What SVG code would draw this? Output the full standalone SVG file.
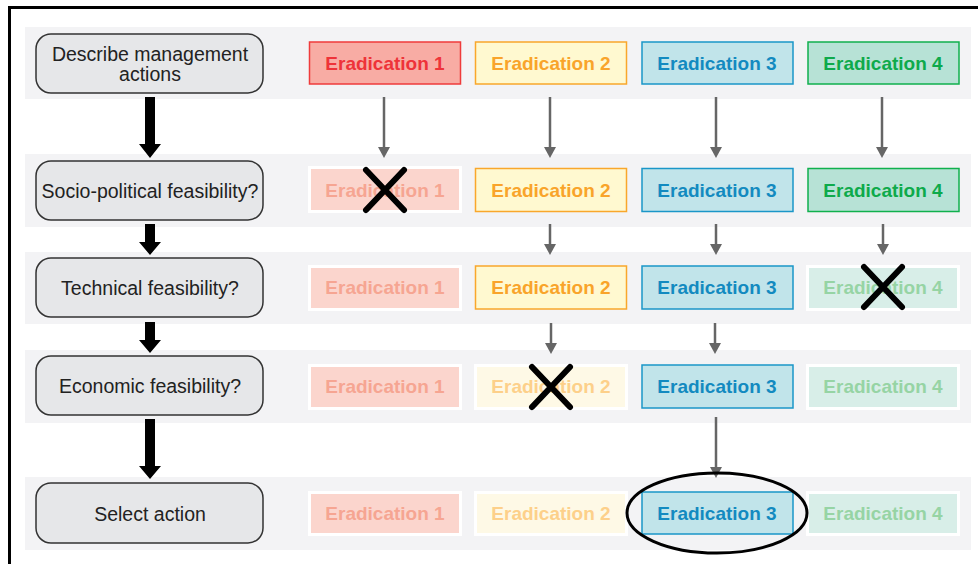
<svg xmlns="http://www.w3.org/2000/svg" width="978" height="564" viewBox="0 0 978 564">
<style>
.band{fill:#f3f3f5}
.step{fill:#e6e7e9;stroke:#333;stroke-width:1.5}
.stxt{font-family:"Liberation Sans",Arial,sans-serif;font-size:19.5px;fill:#222;text-anchor:middle;dominant-baseline:central}
.etxt{font-family:"Liberation Sans",Arial,sans-serif;font-size:19px;font-weight:bold;text-anchor:middle;dominant-baseline:central}
.c1a{fill:#f8aca4;stroke:#ef3b3b;stroke-width:1.5}.t1a{fill:#ee3339}
.c2a{fill:#fff9d0;stroke:#f9a72b;stroke-width:1.5}.t2a{fill:#f9a42a}
.c3a{fill:#c1e4ea;stroke:#1a96c8;stroke-width:1.5}.t3a{fill:#138ac0}
.c4a{fill:#b7e2d6;stroke:#10b04d;stroke-width:1.5}.t4a{fill:#0eaa4b}
.wf{fill:#ffffff}
.c1f{fill:#fbd5cd}.t1f{fill:#f6a592}
.c2f{fill:#fef9e6}.t2f{fill:#fdd08a}
.c4f{fill:#d8eee8}.t4f{fill:#96d4a4}
.garrow{stroke:#666;stroke-width:2.5;fill:none}
.barrow{fill:#000}
.xm{stroke:#000;stroke-width:6;stroke-linecap:round}
</style>
<rect x="0" y="0" width="978" height="564" fill="#fff"/>
<rect x="9.5" y="7.5" width="1000" height="600" fill="none" stroke="#000" stroke-width="3"/>
<g id="bands">
<rect class="band" x="25" y="27" width="946" height="72"/>
<rect class="band" x="25" y="154" width="946" height="73"/>
<rect class="band" x="25" y="252" width="946" height="72"/>
<rect class="band" x="25" y="350" width="946" height="73"/>
<rect class="band" x="25" y="477" width="946" height="73"/>
</g>
<g id="connectors">
<path class="barrow" d="M145,97 H155 V144 H161 L150,158 L139,144 H145 Z"/>
<path class="barrow" d="M145,224 H155 V242 H161 L150,255 L139,242 H145 Z"/>
<path class="barrow" d="M145,322 H155 V340 H161 L150,353 L139,340 H145 Z"/>
<path class="barrow" d="M145,419 H155 V466 H161 L150,479 L139,466 H145 Z"/>
<g fill="#666">
<path d="M384,97 V148" class="garrow"/><path d="M378,147 H390 L384,158 Z"/>
<path d="M550,97 V148" class="garrow"/><path d="M544,147 H556 L550,158 Z"/>
<path d="M716,97 V148" class="garrow"/><path d="M710,147 H722 L716,158 Z"/>
<path d="M882,97 V148" class="garrow"/><path d="M876,147 H888 L882,158 Z"/>
<path d="M550,224 V245" class="garrow"/><path d="M544,244 H556 L550,255 Z"/>
<path d="M716,224 V245" class="garrow"/><path d="M710,244 H722 L716,255 Z"/>
<path d="M883,224 V245" class="garrow"/><path d="M877,244 H889 L883,255 Z"/>
<path d="M551,323 V344" class="garrow"/><path d="M545,343 H557 L551,354 Z"/>
<path d="M715,323 V344" class="garrow"/><path d="M709,343 H721 L715,354 Z"/>
<path d="M716,417 V468" class="garrow"/><path d="M710,467 H722 L716,478 Z"/>
</g>
</g>
<g id="step1"><rect class="step" x="36" y="34" width="227" height="59" rx="15"/><text class="stxt" x="150" y="54">Describe management</text><text class="stxt" x="150" y="74">actions</text></g>
<g id="step2"><rect class="step" x="36" y="161" width="227" height="59" rx="15"/><text class="stxt" x="150" y="191">Socio-political feasibility?</text></g>
<g id="step3"><rect class="step" x="36" y="258" width="227" height="59" rx="15"/><text class="stxt" x="150" y="288">Technical feasibility?</text></g>
<g id="step4"><rect class="step" x="36" y="356" width="227" height="59" rx="15"/><text class="stxt" x="150" y="386">Economic feasibility?</text></g>
<g id="step5"><rect class="step" x="36" y="483" width="227" height="60" rx="15"/><text class="stxt" x="150" y="514">Select action</text></g>

<g id="r1e1"><rect class="c1a" x="309.5" y="42" width="151" height="42"/><text class="etxt t1a" x="385" y="63">Eradication 1</text></g>
<g id="r1e2"><rect class="c2a" x="475.5" y="42" width="151" height="42"/><text class="etxt t2a" x="551" y="63">Eradication 2</text></g>
<g id="r1e3"><rect class="c3a" x="642" y="42" width="151" height="42"/><text class="etxt t3a" x="717" y="63">Eradication 3</text></g>
<g id="r1e4"><rect class="c4a" x="808" y="42" width="151" height="42"/><text class="etxt t4a" x="883" y="63">Eradication 4</text></g>

<g id="r2e1"><rect class="wf" x="308" y="166" width="154" height="47"/><rect class="c1f" x="311" y="169" width="148" height="41"/><text class="etxt t1f" x="385" y="190">Eradication 1</text></g>
<g id="r2e2"><rect class="c2a" x="475.5" y="168.5" width="151" height="43"/><text class="etxt t2a" x="551" y="190">Eradication 2</text></g>
<g id="r2e3"><rect class="c3a" x="642" y="168.5" width="151" height="43"/><text class="etxt t3a" x="717" y="190">Eradication 3</text></g>
<g id="r2e4"><rect class="c4a" x="808" y="168.5" width="151" height="43"/><text class="etxt t4a" x="883" y="190">Eradication 4</text></g>

<g id="r3e1"><rect class="wf" x="308" y="265" width="154" height="46"/><rect class="c1f" x="311" y="268" width="148" height="40"/><text class="etxt t1f" x="385" y="287.5">Eradication 1</text></g>
<g id="r3e2"><rect class="c2a" x="475.5" y="266" width="151" height="43"/><text class="etxt t2a" x="551" y="287.5">Eradication 2</text></g>
<g id="r3e3"><rect class="c3a" x="642" y="266" width="151" height="43"/><text class="etxt t3a" x="717" y="287.5">Eradication 3</text></g>
<g id="r3e4"><rect class="wf" x="806" y="265" width="154" height="46"/><rect class="c4f" x="809" y="268" width="148" height="40"/><text class="etxt t4f" x="883" y="287.5">Eradication 4</text></g>

<g id="r4e1"><rect class="wf" x="308" y="364" width="154" height="46"/><rect class="c1f" x="311" y="367" width="148" height="40"/><text class="etxt t1f" x="385" y="386.5">Eradication 1</text></g>
<g id="r4e2"><rect class="wf" x="474" y="364" width="154" height="46"/><rect class="c2f" x="477" y="367" width="148" height="40"/><text class="etxt t2f" x="551" y="386.5">Eradication 2</text></g>
<g id="r4e3"><rect class="c3a" x="642" y="365" width="151" height="43"/><text class="etxt t3a" x="717" y="386.5">Eradication 3</text></g>
<g id="r4e4"><rect class="wf" x="806" y="364" width="154" height="46"/><rect class="c4f" x="809" y="367" width="148" height="40"/><text class="etxt t4f" x="883" y="386.5">Eradication 4</text></g>

<g id="r5e1"><rect class="wf" x="308" y="491" width="154" height="45"/><rect class="c1f" x="311" y="494" width="148" height="39"/><text class="etxt t1f" x="385" y="513">Eradication 1</text></g>
<g id="r5e2"><rect class="wf" x="474" y="491" width="154" height="45"/><rect class="c2f" x="477" y="494" width="148" height="39"/><text class="etxt t2f" x="551" y="513">Eradication 2</text></g>
<g id="r5e3"><rect class="c3a" x="642" y="492" width="151" height="42"/><text class="etxt t3a" x="717" y="513">Eradication 3</text></g>
<g id="r5e4"><rect class="wf" x="806" y="491" width="154" height="45"/><rect class="c4f" x="809" y="494" width="148" height="39"/><text class="etxt t4f" x="883" y="513">Eradication 4</text></g>

<g id="marks">
<path class="xm" d="M366,170 L404,210 M404,170 L366,210"/>
<path class="xm" d="M864,267 L902,307 M902,267 L864,307"/>
<path class="xm" d="M532,367 L570,407 M570,367 L532,407"/>
<ellipse cx="717" cy="513" rx="90" ry="40" fill="none" stroke="#000" stroke-width="3"/>
</g>
</svg>
